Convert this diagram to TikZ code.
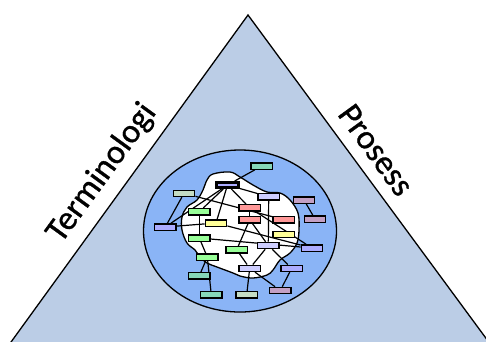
\documentclass[tikz,border=0pt]{standalone}
\usepackage{fontspec}
\setmainfont{Carlito}
\newfontfamily\sidefont{Carlito}[FakeBold=0.9]
\usetikzlibrary{positioning}
\definecolor{trifill}{RGB}{187,205,230}
\definecolor{ovalc}{RGB}{138,180,246}
\definecolor{tealc}{RGB}{134,214,184}
\definecolor{sagec}{RGB}{196,220,196}
\definecolor{lavc}{RGB}{206,206,255}
\definecolor{bluec}{RGB}{172,172,255}
\definecolor{mauvec}{RGB}{196,160,196}
\definecolor{redc}{RGB}{255,152,152}
\definecolor{greenc}{RGB}{152,255,152}
\definecolor{yellowc}{RGB}{255,255,152}
\pgfdeclarelayer{back}
\pgfdeclarelayer{links}
\pgfsetlayers{back,links,main}
\tikzstyle{box} = [draw, rectangle, line width=1.3pt, minimum width=21.5pt, minimum height=6.3pt, inner sep=0pt]
\tikzstyle{hub} = [box, line width=3pt, minimum width=22pt, minimum height=5pt, fill=bluec]
\tikzstyle{link} = [line width=1.2pt]
\tikzstyle{side} = [font=\sidefont\fontsize{34}{40}\selectfont, inner sep=0pt]
\begin{document}
\begin{tikzpicture}[x=1pt, y=-1pt]
    \useasboundingbox (0,0) rectangle (486,341);

    % Boxes.
    \node (hub) [hub] at (227.5,185) {};
    \foreach \nm/\px/\py/\cl in {tealA/261.7/166/tealc, sageA/184/193.3/sagec,
        lavA/268.7/196.7/lavc, mauveA/304/200/mauvec, redA/249.7/207.8/redc,
        greenA/199.3/211.7/greenc, redB/249.7/219.7/redc, redC/283.7/219.7/redc,
        mauveB/315/219/mauvec, yellowA/216/223/yellowc, blueA/165.3/227/bluec,
        yellowB/283.7/234.5/yellowc, greenB/199.3/238/greenc, greenC/236.7/249.7/greenc,
        lavB/268.3/245.5/lavc, blueB/312/248/bluec, greenD/207.3/257/greenc,
        lavC/249.7/268.3/lavc, blueC/291.7/268.3/bluec, tealB/199.3/275.8/tealc,
        mauveC/280.3/290.5/mauvec, tealC/211.3/294.7/tealc, sageB/246.7/294.7/sagec} {
        \node (\nm) [box, fill=\cl] at (\px,\py) {};
    }

    % Side labels.
    \node (term) [side, rotate=54] at (102,173) {Terminologi};
    \node (pros) [side, rotate=-54] at (376,150) {Prosess};

    % Links.
    \begin{pgfonlayer}{links}
        \foreach \a/\b in {tealA/hub, hub/lavA, hub/redA, hub/greenA, hub/yellowA,
            hub/blueA, sageA/blueA, sageA/redC, blueA/yellowA, greenA/greenB,
            greenB/greenD, greenB/blueB, greenD/tealB, greenD/tealC, lavA/lavB,
            redA/redB, redB/greenC, redB/lavB, yellowA/blueB, redA/blueB,
            mauveA/mauveB, greenC/lavC, lavB/lavC, lavB/blueC, lavC/sageB,
            lavC/mauveC, blueC/mauveC} {
            \draw [link] (\a) -- (\b);
        }
    \end{pgfonlayer}

    % Triangle, oval and cloud.
    \begin{pgfonlayer}{back}
        \begin{scope}
            \clip (0,0) rectangle (486,341);
            \draw [line width=1.3pt, fill=trifill] (248,15) -- (502,360) -- (-2,360) -- cycle;
        \end{scope}
        \draw [line width=1.3pt, fill=ovalc] (240,231) ellipse [x radius=96.5, y radius=81];
        \draw [line width=1.3pt, fill=white] plot [smooth cycle, tension=0.6] coordinates {
            (213,174) (230,172) (240,177) (253,185) (267,192) (280,193) (290,200)
            (298,213) (299,230) (297,243) (290,253) (280,260) (273,270) (267,275)
            (253,278) (240,276) (233,273) (217,267) (207,263) (200,257) (195,250)
            (187,243) (182,230) (182,217) (187,207) (197,200) (203,190) (207,180)};
    \end{pgfonlayer}
\end{tikzpicture}
\end{document}
